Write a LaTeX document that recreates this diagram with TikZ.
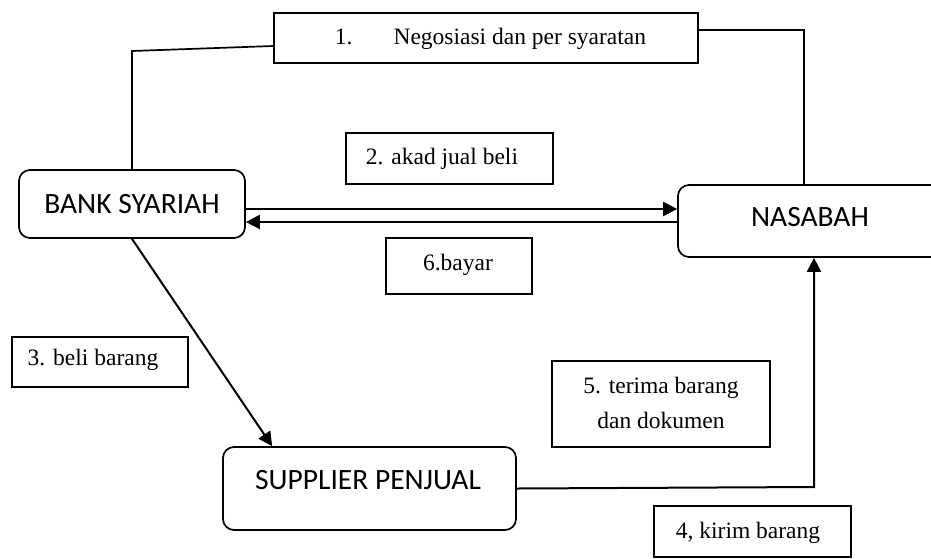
\documentclass[tikz,border=0pt]{standalone}
\usepackage{fontspec}
\setmainfont{Liberation Serif}
\newfontfamily\calfont{Carlito}
\usetikzlibrary{arrows.meta}
\begin{document}
\begin{tikzpicture}[x=1pt,y=-1pt,
  lbox/.style={draw, line width=1.7pt, inner sep=0pt},
  rbox/.style={draw, line width=1.7pt, rounded corners=11pt, inner sep=0pt},
  serif/.style={font=\fontsize{23.5}{35}\selectfont},
  sans/.style={font=\calfont\fontsize{29.5}{34}\selectfont},
  conn/.style={line width=1.7pt},
  arr/.style={line width=2pt, -{Triangle[length=14pt,width=14pt]}}]
\clip (0,0) rectangle (931,558);
% main entities
\node[rbox, minimum width=226pt, minimum height=68pt,
  label={[sans]center:{BANK SYARIAH}}] (bank) at (132,204) {};
\node[rbox, minimum width=264pt, minimum height=72pt,
  label={[sans, yshift=4pt]center:{NASABAH}}] (nas) at (810,221) {};
\node[rbox, minimum width=293pt, minimum height=83pt,
  label={[sans, xshift=-1.5pt, yshift=8.5pt]center:{SUPPLIER PENJUAL}}] (sup) at (369.5,488.5) {};
% label boxes
\node[lbox, minimum width=424pt, minimum height=50pt,
  label={[serif, xshift=4.5pt, yshift=-1pt]center:{1.\hspace*{41pt}Negosiasi dan per syaratan}}] (n1) at (486,38) {};
\node[lbox, minimum width=207pt, minimum height=51pt,
  label={[serif, xshift=-7.5pt]center:{2. akad jual beli}}] (n2) at (449.5,158.5) {};
\node[lbox, minimum width=176pt, minimum height=50pt,
  label={[serif, xshift=-7pt, yshift=2pt]center:{3. beli barang}}] (n3) at (100,362) {};
\node[lbox, minimum width=197pt, minimum height=51pt,
  label={[serif, xshift=-4.5pt, yshift=-1.5pt]center:{4, kirim barang}}] (n4) at (752.5,531.5) {};
\node[lbox, minimum width=218pt, minimum height=86pt,
  label={[serif, align=center, yshift=1.5pt]center:{5. terima barang\\dan dokumen}}] (n5) at (661,404) {};
\node[lbox, minimum width=146pt, minimum height=56pt,
  label={[serif, xshift=-1pt, yshift=1pt]center:{6.bayar}}] (n6) at (459,266) {};
% connectors
\coordinate (c1) at (132,51);
\coordinate (c2) at (804,30);
\coordinate (c3) at (814,487);
\draw[conn] ([yshift=-8pt]n1.west) -- (c1) -- (bank.north);
\draw[conn] ([yshift=8pt]n1.east) -- (c2) -- (c2 |- nas.north);
\draw[arr] ([yshift=-5pt]bank.east) -- ([yshift=-5pt]bank.east -| nas.west);
\draw[arr] ([yshift=-18pt]bank.east -| nas.west) -- ([yshift=-18pt]bank.east);
\draw[arr] (bank.south) -- ([xshift=50pt]sup.north west);
\draw[arr] (sup.east) -- (c3) -- (c3 |- nas.south);
\end{tikzpicture}
\end{document}
